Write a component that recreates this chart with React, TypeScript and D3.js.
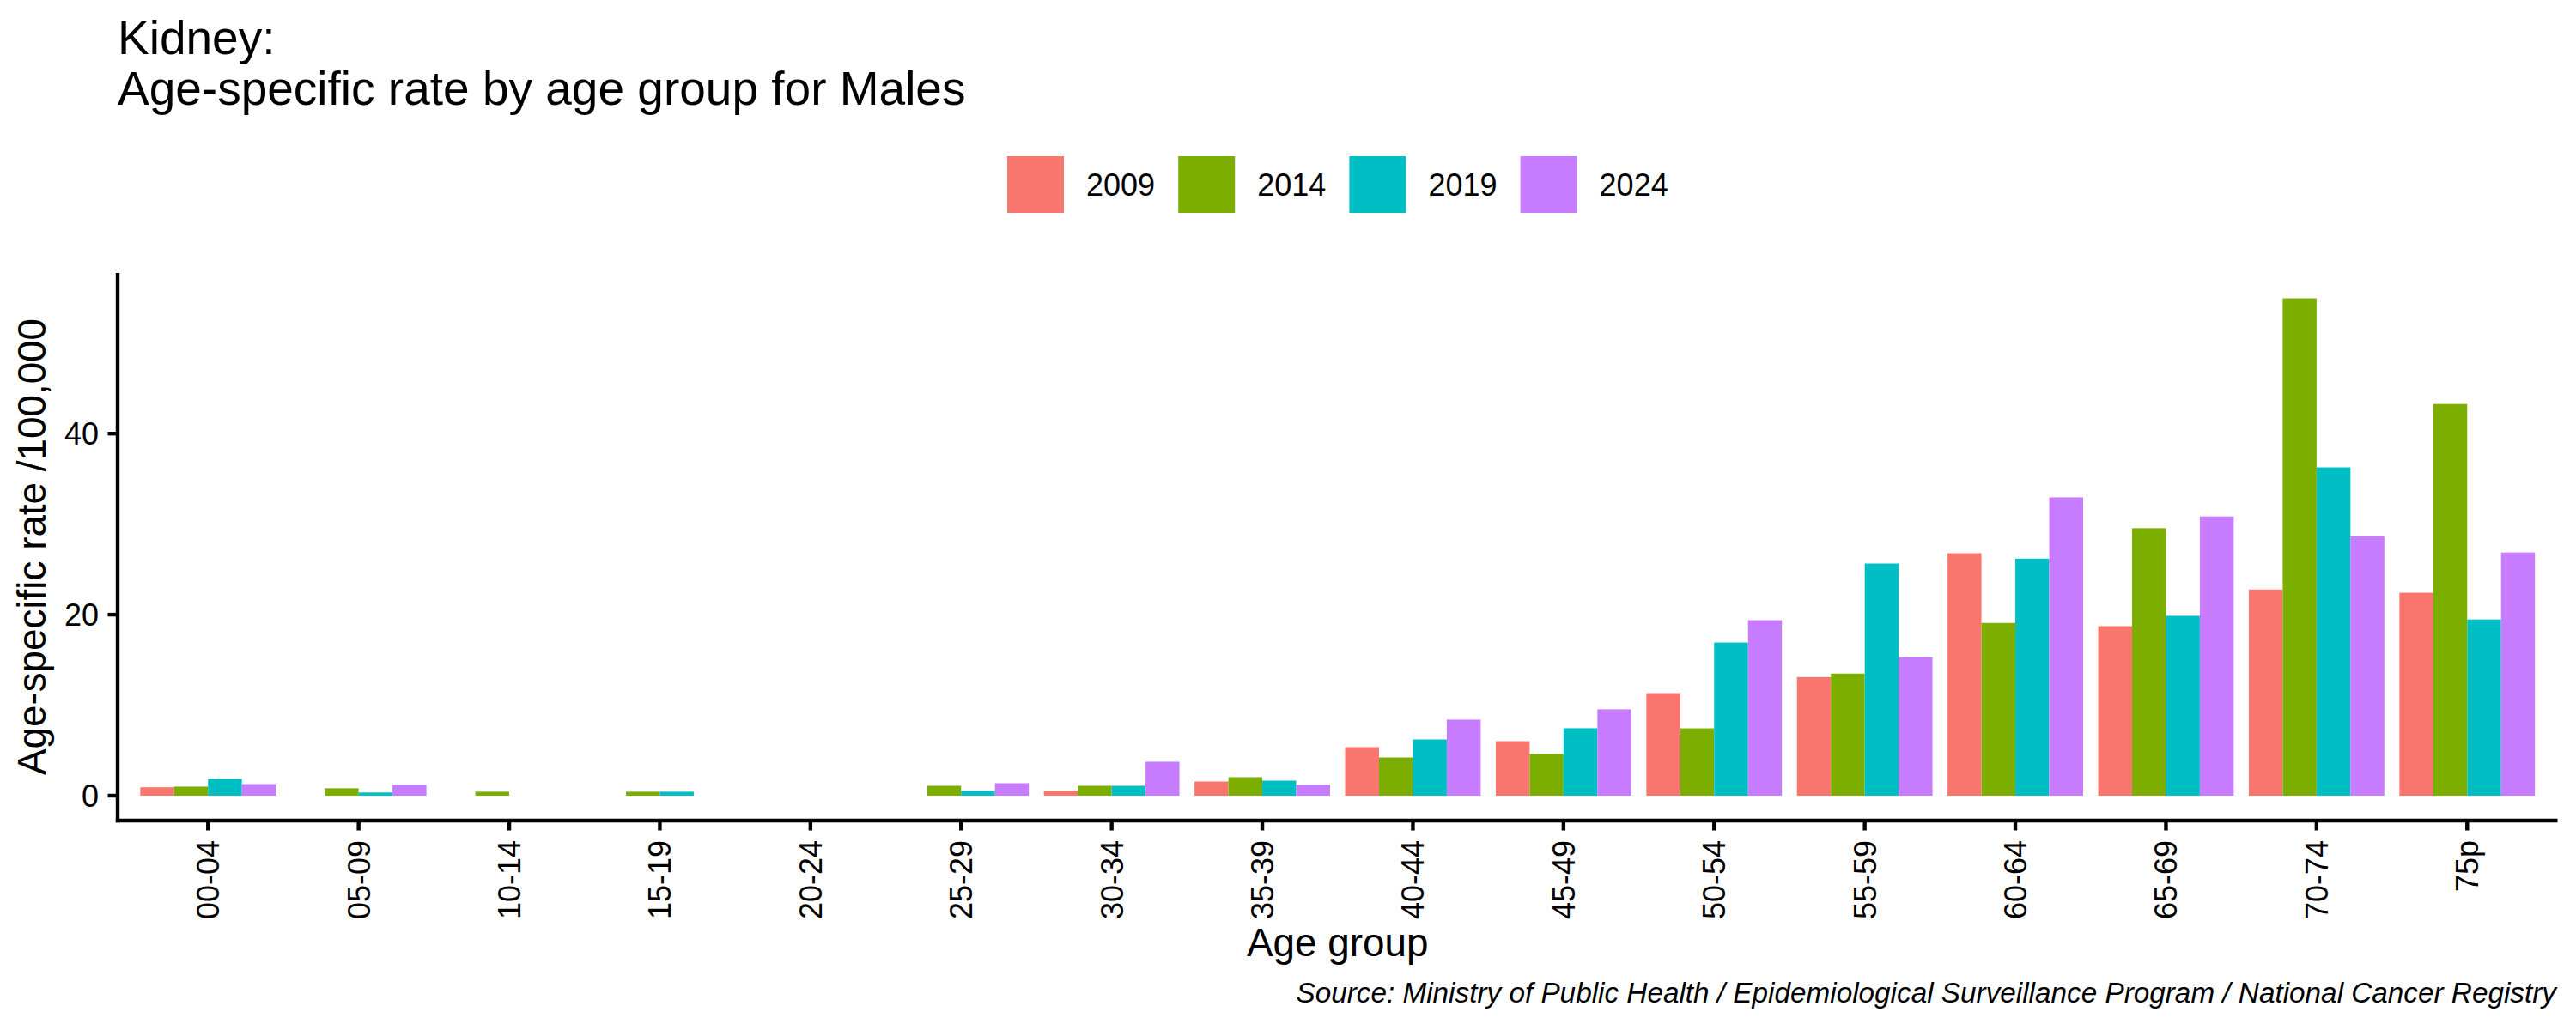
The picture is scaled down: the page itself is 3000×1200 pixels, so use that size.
import React from "react";
import * as d3 from "d3";

const ageGroups = ["00-04","05-09","10-14","15-19","20-24","25-29","30-34","35-39","40-44","45-49","50-54","55-59","60-64","65-69","70-74","75p"];
const years = ["2009","2014","2019","2024"];
const rate2009: (number | null)[] = [0.93, null, null, null, null, null, 0.52, 1.57, 5.36, 6.02, 11.33, 13.1, 26.79, 18.73, 22.78, 22.42];
const rate2014: (number | null)[] = [1.0, 0.82, 0.44, 0.44, null, 1.09, 1.09, 2.04, 4.22, 4.6, 7.44, 13.49, 19.08, 29.55, 54.95, 43.27];
const rate2019: (number | null)[] = [1.86, 0.35, null, 0.44, null, 0.52, 1.09, 1.66, 6.21, 7.45, 16.92, 25.65, 26.19, 19.87, 36.27, 19.47];
const rate2024: (number | null)[] = [1.28, 1.19, null, null, null, 1.38, 3.75, 1.19, 8.4, 9.54, 19.39, 15.3, 32.96, 30.85, 28.68, 26.87];
const yTicks = [0, 20, 40];
const colors = ["#F8766D", "#7CAE00", "#00BFC4", "#C77CFF"];
const titleLines = ["Kidney:", "Age-specific rate by age group for Males"];
const xTitle = "Age group";
const yTitle = "Age-specific rate /100,000";
const caption = "Source: Ministry of Public Health / Epidemiological Surveillance Program / National Cancer Registry";

const series = [rate2009, rate2014, rate2019, rate2024];

export default function App() {
  const W = 3000, H = 1200;
  const left = 137, right = 2978.5, top = 318, bottom = 956;
  const font = "'Liberation Sans', Arial, Helvetica, sans-serif";
  const x = d3.scaleBand<string>().domain(ageGroups).range([left, right]).paddingInner(0).paddingOuter(0.1);
  const bw = x.bandwidth();
  const x1 = d3.scaleBand<string>().domain(years).range([0.05 * bw, 0.95 * bw]);
  const maxV = 55.0;
  const y = d3.scaleLinear().domain([-0.05 * maxV, 1.05 * maxV]).range([bottom, top]);
  const lw = 4.4;

  const legendKey = 66, legendStep = 199.2;
  const legendStart = 1173;
  const legendY = 182;

  return (
    <svg width={W} height={H} style={{ position: "absolute", left: 0, top: 0, background: "#fff" }} fontFamily={font}>
      <rect x={0} y={0} width={W} height={H} fill="#fff" />
      {titleLines.map((t, i) => (
        <text key={t} x={137} y={62.7 + i * 59} fontSize={55} fill="#000">{t}</text>
      ))}
      {years.map((yr, i) => (
        <g key={yr}>
          <rect x={legendStart + i * legendStep} y={legendY} width={legendKey} height={legendKey} fill={colors[i]} />
          <text x={legendStart + i * legendStep + legendKey + 26} y={228.3} fontSize={36} fill="#000">{yr}</text>
        </g>
      ))}
      {series.map((vals, si) =>
        vals.map((v, ci) =>
          v == null ? null : (
            <rect key={`${si}-${ci}`}
              x={(x(ageGroups[ci]) as number) + (x1(years[si]) as number)}
              y={y(v)}
              width={x1.bandwidth()}
              height={y(0) - y(v)}
              fill={colors[si]} />
          )
        )
      )}
      <line x1={left} x2={left} y1={top} y2={bottom + lw / 2} stroke="#000" strokeWidth={lw} />
      <line x1={left - lw / 2} x2={right} y1={bottom} y2={bottom} stroke="#000" strokeWidth={lw} />
      {yTicks.map(t => (
        <g key={t}>
          <line x1={left - 11.5} x2={left} y1={y(t)} y2={y(t)} stroke="#000" strokeWidth={lw} />
          <text x={115} y={y(t)} dy="0.36em" textAnchor="end" fontSize={36} fill="#000">{t}</text>
        </g>
      ))}
      {ageGroups.map(g => {
        const cx = (x(g) as number) + bw / 2;
        return (
          <g key={g}>
            <line x1={cx} x2={cx} y1={bottom} y2={bottom + 11.5} stroke="#000" strokeWidth={lw} />
            <text transform={`translate(${cx + 13},${979}) rotate(-90)`} textAnchor="end" fontSize={36} fill="#000">{g}</text>
          </g>
        );
      })}
      <text x={(left + right) / 2} y={1114} textAnchor="middle" fontSize={45.8} fill="#000">{xTitle}</text>
      <text transform={`translate(53,${(top + bottom) / 2}) rotate(-90)`} textAnchor="middle" fontSize={45.8} fill="#000">{yTitle}</text>
      <text x={2977} y={1168} textAnchor="end" fontSize={33.3} fontStyle="italic" fill="#000">{caption}</text>
    </svg>
  );
}
